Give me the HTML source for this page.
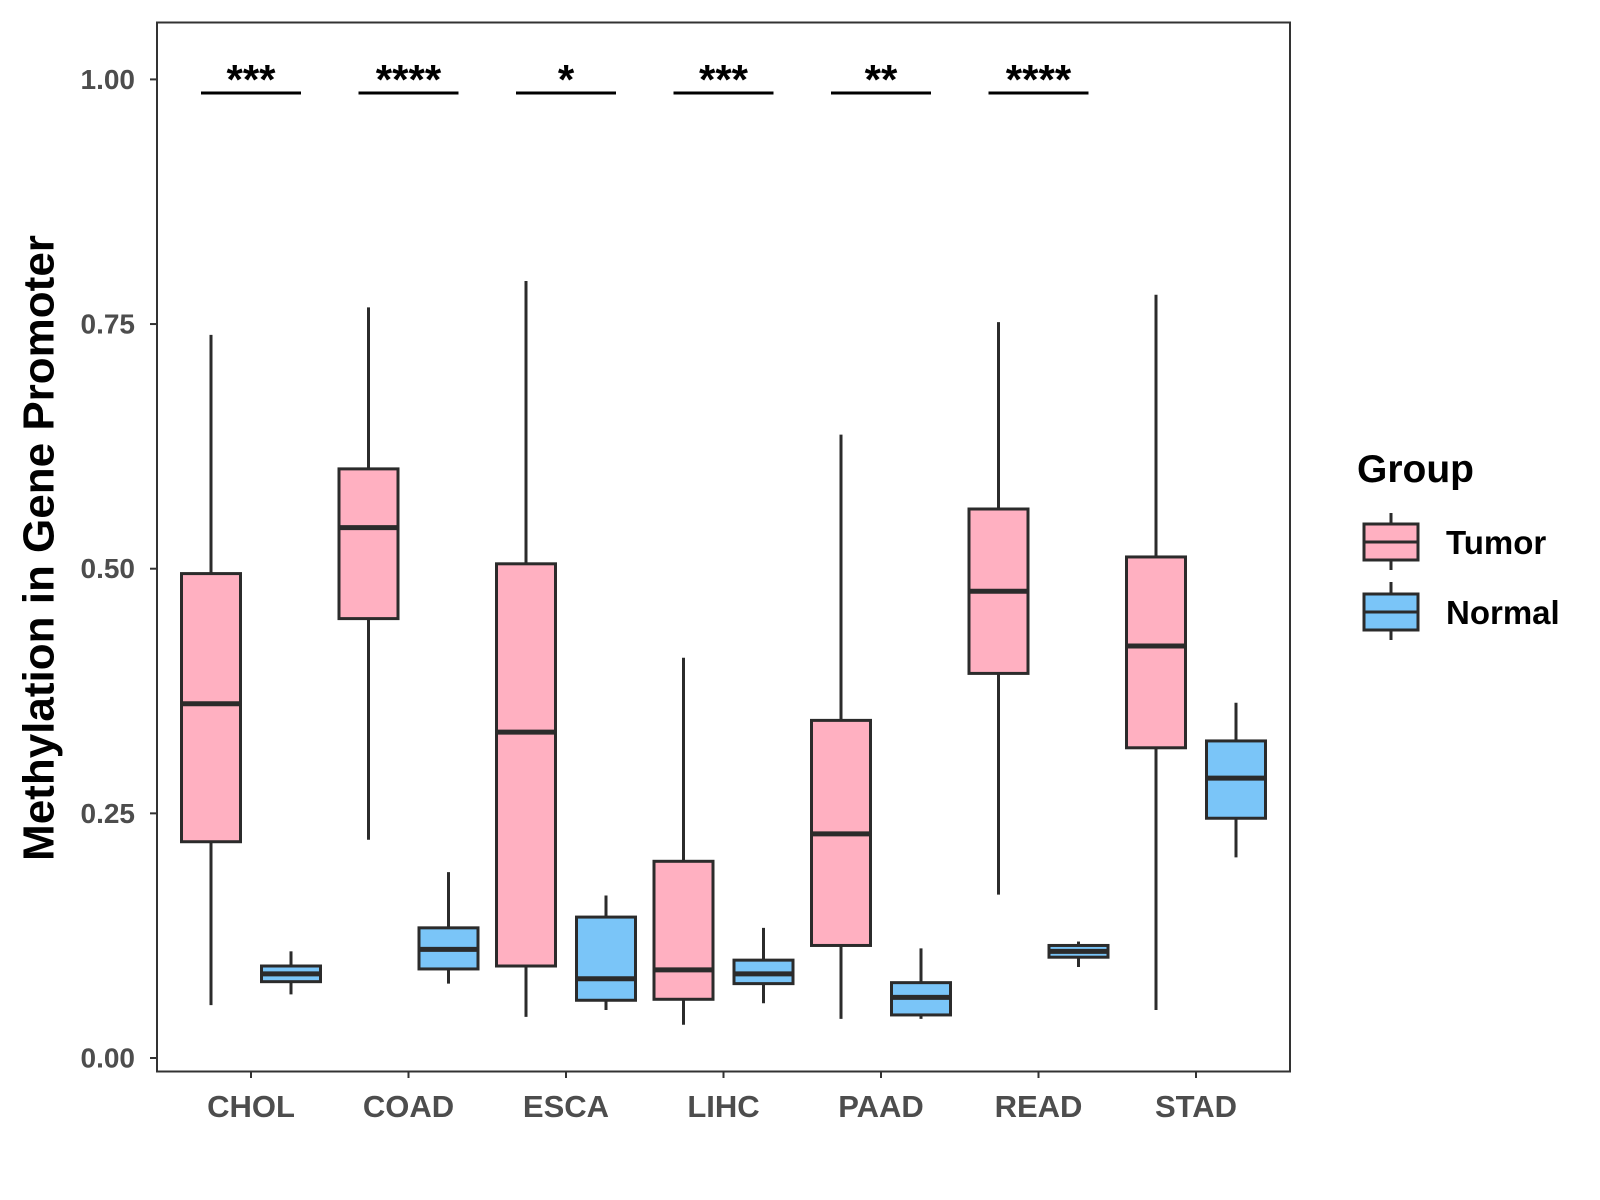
<!DOCTYPE html>
<html><head><meta charset="utf-8"><style>
body{margin:0;background:#fff}
svg{display:block;font-family:"Liberation Sans",Arial,sans-serif}
</style></head><body>
<svg id="chart" width="1600" height="1200" xmlns="http://www.w3.org/2000/svg">
<rect x="157" y="22.5" width="1133" height="1049" fill="#fff" stroke="#333" stroke-width="2"/>
<g id="yaxis"></g>
<g id="xaxis"></g>
<g id="boxes"></g>
<g id="sig"></g>
<text x="39" y="548" transform="rotate(-90 39 548)" text-anchor="middle" dominant-baseline="central" font-size="44" font-weight="bold" fill="#000">Methylation in Gene Promoter</text>
<g>
<text x="1357" y="482" font-size="39" font-weight="bold">Group</text>
<g>
<line x1="1391" y1="513" x2="1391" y2="570" stroke="#2b2b2b" stroke-width="3"/>
<rect x="1364" y="524" width="54" height="36" fill="#FFB0C1" stroke="#2b2b2b" stroke-width="3"/>
<line x1="1364" y1="542" x2="1418" y2="542" stroke="#2b2b2b" stroke-width="3"/>
<text x="1446" y="554" font-size="33" font-weight="bold">Tumor</text>
</g>
<g>
<line x1="1391" y1="582" x2="1391" y2="640" stroke="#2b2b2b" stroke-width="3"/>
<rect x="1364" y="594" width="54" height="36" fill="#7AC5F8" stroke="#2b2b2b" stroke-width="3"/>
<line x1="1364" y1="612" x2="1418" y2="612" stroke="#2b2b2b" stroke-width="3"/>
<text x="1446" y="624" font-size="33" font-weight="bold">Normal</text>
</g>
</g>
</svg>
<script>
const categories=["CHOL","COAD","ESCA","LIHC","PAAD","READ","STAD"];
const tumorLow=[0.054,0.223,0.042,0.034,0.040,0.167,0.049];
const tumorQ1=[0.221,0.449,0.094,0.060,0.115,0.393,0.317];
const tumorMed=[0.362,0.542,0.333,0.090,0.229,0.477,0.421];
const tumorQ3=[0.495,0.602,0.505,0.201,0.345,0.561,0.512];
const tumorHigh=[0.739,0.767,0.794,0.409,0.637,0.752,0.780];
const normalLow=[0.065,0.076,0.049,0.056,0.040,0.093,0.205];
const normalQ1=[0.078,0.091,0.059,0.076,0.044,0.103,0.245];
const normalMed=[0.086,0.111,0.081,0.086,0.062,0.109,0.286];
const normalQ3=[0.094,0.133,0.144,0.100,0.077,0.115,0.324];
const normalHigh=[0.109,0.190,0.166,0.133,0.112,0.119,0.363];
const sigLabels=["***","****","*","***","**","****"];
const yTicks=[0,0.25,0.5,0.75,1.0];
const yTickLabels=["0.00","0.25","0.50","0.75","1.00"];

const NS="http://www.w3.org/2000/svg";
const y=v=>1058-v*978.6;
const x=i=>251+i*157.5;
function mk(tag,attrs,parent){const e=document.createElementNS(NS,tag);for(const k in attrs)e.setAttribute(k,attrs[k]);parent.appendChild(e);return e;}
const ya=document.getElementById('yaxis'),xa=document.getElementById('xaxis'),bx=document.getElementById('boxes'),sg=document.getElementById('sig');
yTicks.forEach((t,i)=>{
  const l=mk('line',{x1:150,x2:157,y1:y(t),y2:y(t),stroke:'#333','stroke-width':2},ya);
  
  
  const tx=mk('text',{x:135,y:y(t),'text-anchor':'end','dominant-baseline':'central','font-size':28,'font-weight':'bold',fill:'#4d4d4d'},ya);
  tx.textContent=yTickLabels[i];
  
  
});
categories.forEach((c,i)=>{
  const l=mk('line',{x1:x(i),x2:x(i),y1:1071,y2:1078,stroke:'#333','stroke-width':2},xa);
  
  
  const tx=mk('text',{x:x(i),y:1117,'text-anchor':'middle','font-size':31,'font-weight':'bold',fill:'#4d4d4d'},xa);
  tx.textContent=c;
  
  
  [[-40,'#FFB0C1',tumorLow,tumorQ1,tumorMed,tumorQ3,tumorHigh,'tumor'],[40,'#7AC5F8',normalLow,normalQ1,normalMed,normalQ3,normalHigh,'normal']].forEach(s=>{
    const cx=x(i)+s[0];
    const g=mk('g',{},bx);
    
    
    mk('line',{x1:cx,x2:cx,y1:y(s[6][i]),y2:y(s[2][i]),stroke:'#2b2b2b','stroke-width':3},g);
    mk('rect',{x:cx-29.5,y:y(s[5][i]),width:59,height:y(s[3][i])-y(s[5][i]),fill:s[1],stroke:'#2b2b2b','stroke-width':3},g);
    mk('line',{x1:cx-29.5,x2:cx+29.5,y1:y(s[4][i]),y2:y(s[4][i]),stroke:'#2b2b2b','stroke-width':5},g);
  });
});
sigLabels.forEach((s,i)=>{
  const l=mk('line',{x1:x(i)-50,x2:x(i)+50,y1:93,y2:93,stroke:'#000','stroke-width':3},sg);
  
  
  const t=mk('text',{x:x(i),y:94,'text-anchor':'middle','font-size':42,'font-weight':'bold',fill:'#000'},sg);
  t.textContent=s;
  
  
});
</script>
</body></html>
